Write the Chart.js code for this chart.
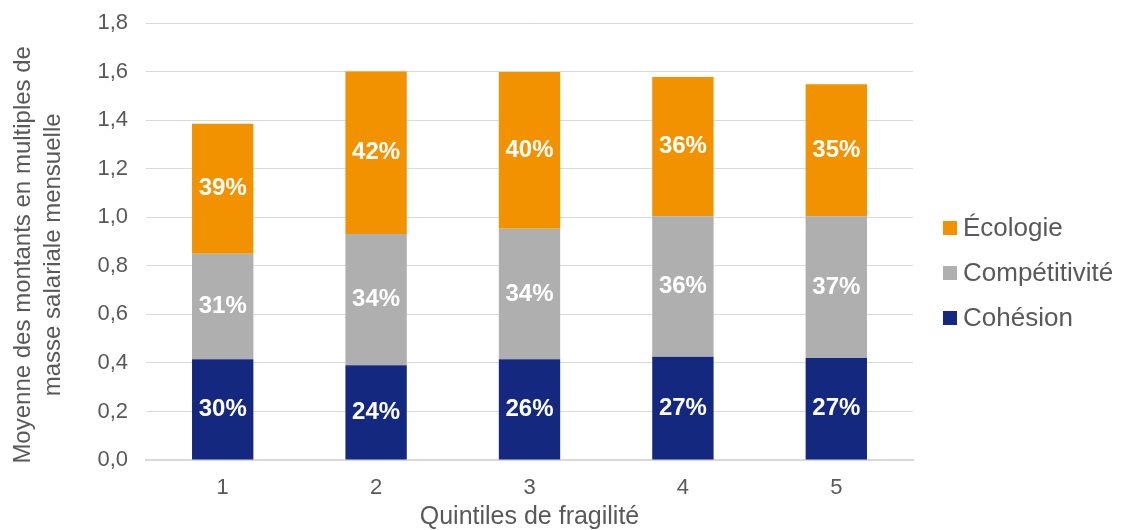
<!DOCTYPE html>
<html lang="fr">
<head>
<meta charset="utf-8"/>
<title>Quintiles de fragilité</title>
<script src="https://cdn.jsdelivr.net/npm/chart.js"></script>
<style>
  body { margin: 0; background: #fff; font-family: "Liberation Sans", Arial, sans-serif; }
  #wrap { position: relative; width: 1121px; height: 530px; }
  #legende {
    position: absolute; left: 943px; top: 205px;
    list-style: none; margin: 0; padding: 0;
    color: #595959; font-size: 26px;
  }
  #legende li { height: 45px; display: flex; align-items: center; white-space: nowrap; }
  #legende span {
    display: inline-block; width: 14px; height: 14px; margin-right: 6px;
  }
</style>
</head>
<body>
<div id="wrap">
  <canvas id="graphique" width="1121" height="530"></canvas>
  <ul id="legende"></ul>
</div>
<script>
  // données
  const quintiles = ['1', '2', '3', '4', '5'];
  const cohesion = [0.415, 0.39, 0.415, 0.425, 0.42];
  const competitivite = [0.435, 0.541, 0.538, 0.579, 0.584];
  const ecologie = [0.535, 0.669, 0.645, 0.574, 0.544];
  const pctCohesion = ['30%', '24%', '26%', '27%', '27%'];
  const pctCompetitivite = ['31%', '34%', '34%', '36%', '37%'];
  const pctEcologie = ['39%', '42%', '40%', '36%', '35%'];

  const gris = '#595959';
  const police = '"Liberation Sans", Arial, sans-serif';

  const series = [
    { label: 'Cohésion', data: cohesion, pct: pctCohesion, couleur: '#15287f' },
    { label: 'Compétitivité', data: competitivite, pct: pctCompetitivite, couleur: '#afafaf' },
    { label: 'Écologie', data: ecologie, pct: pctEcologie, couleur: '#f39200' }
  ];

  // étiquettes en % au centre de chaque segment
  const etiquettes = {
    id: 'etiquettes',
    afterDatasetsDraw(chart) {
      const ctx = chart.ctx;
      ctx.save();
      ctx.fillStyle = '#fff';
      ctx.font = 'bold 24px ' + police;
      ctx.textAlign = 'center';
      ctx.textBaseline = 'middle';
      chart.data.datasets.forEach((ds, i) => {
        chart.getDatasetMeta(i).data.forEach((bar, j) => {
          const y = (bar.y + bar.base) / 2;
          ctx.fillText(series[i].pct[j], bar.x, y);
        });
      });
      ctx.restore();
    }
  };

  new Chart(document.getElementById('graphique'), {
    type: 'bar',
    data: {
      labels: quintiles,
      datasets: series.map(s => ({
        label: s.label,
        data: s.data,
        backgroundColor: s.couleur,
        barPercentage: 0.4,
        categoryPercentage: 1.0
      }))
    },
    options: {
      responsive: false,
      animation: false,
      layout: { padding: { top: 23, right: 208, bottom: 0, left: 0 } },
      plugins: {
        legend: { display: false },
        tooltip: { enabled: false }
      },
      scales: {
        x: {
          stacked: true,
          afterFit(scale) { scale.height = 70; },
          grid: { display: false, drawTicks: false },
          border: { color: '#d9d9d9', width: 2 },
          ticks: { color: gris, font: { family: police, size: 22 }, padding: 15 },
          title: {
            display: true, text: 'Quintiles de fragilité', color: gris,
            font: { family: police, size: 25, lineHeight: 1.0 }, padding: { top: 5, bottom: 0 }
          }
        },
        y: {
          stacked: true,
          min: 0, max: 1.8,
          afterFit(scale) {
            scale.width = 146;
            scale.paddingTop = 0;
            scale.paddingBottom = 0;
          },
          grid: { color: '#d9d9d9', drawTicks: false },
          border: { display: false },
          ticks: {
            stepSize: 0.2, color: gris, padding: 18,
            font: { family: police, size: 22 },
            callback: v => v.toFixed(1).replace('.', ',')
          },
          title: {
            display: true,
            text: ['Moyenne des montants en multiples de    ', 'masse salariale mensuelle    '],
            color: gris, font: { family: police, size: 24, lineHeight: 1.25 },
            padding: { top: 8, bottom: 0 }
          }
        }
      }
    },
    plugins: [etiquettes]
  });

  // légende (ordre inversé comme l'original)
  const ul = document.getElementById('legende');
  series.slice().reverse().forEach(s => {
    const li = document.createElement('li');
    li.innerHTML = '<span style="background:' + s.couleur + '"></span>' + s.label;
    ul.appendChild(li);
  });
</script>
</body>
</html>
